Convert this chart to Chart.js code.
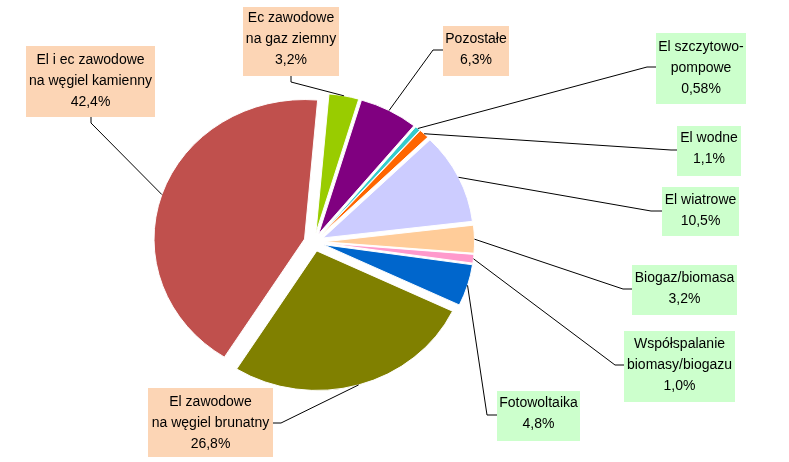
<!DOCTYPE html>
<html>
<head>
<meta charset="utf-8">
<script src="https://cdn.jsdelivr.net/npm/chart.js@4"></script>
<style>
html,body{margin:0;padding:0;background:#fff;}
#wrap{width:789px;height:462px;}
</style>
</head>
<body>
<div id="wrap"><canvas id="c" width="789" height="462"></canvas></div>
<script>
// ---- data ----
const categories = [
  "Ec zawodowe na gaz ziemny",
  "Pozostałe",
  "El szczytowo-pompowe",
  "El wodne",
  "El wiatrowe",
  "Biogaz/biomasa",
  "Współspalanie biomasy/biogazu",
  "Fotowoltaika",
  "El zawodowe na węgiel brunatny",
  "El i ec zawodowe na węgiel kamienny"
];
const labelLines = [
  ["Ec zawodowe", "na gaz ziemny"],
  ["Pozostałe"],
  ["El szczytowo-", "pompowe"],
  ["El wodne"],
  ["El wiatrowe"],
  ["Biogaz/biomasa"],
  ["Współspalanie", "biomasy/biogazu"],
  ["Fotowoltaika"],
  ["El zawodowe", "na węgiel brunatny"],
  ["El i ec zawodowe", "na węgiel kamienny"]
];
const values = [3.2, 6.3, 0.58, 1.1, 10.5, 3.2, 1.0, 4.8, 26.8, 42.4];

// ---- styles ----
const sliceColors = ["#99CC00", "#800080", "#33CCCC", "#FF6600", "#CCCCFF",
                     "#FFCC99", "#FF99CC", "#0066CC", "#808000", "#C0504D"];
const PEACH = "#FCD5B5", MINT = "#CCFFCC";
const boxFills = [PEACH, PEACH, MINT, MINT, MINT, MINT, MINT, MINT, PEACH, PEACH];

// label box layout: [x, y, w, h, textMidY, anchorX, anchorY, elbowX, elbowY]
const boxLayout = [
  [243,   7,  96, 69,  39.5, 291,  76, 291,  82],
  [443,  26,  66, 50,  50,   443,  50, 433,  50],
  [656,  33,  90, 71,  68,   656,  67, 647,  67],
  [677, 126,  64, 50, 149,   677, 150, 671, 150],
  [662, 187,  77, 49, 210.5, 662, 211, 651, 211],
  [632, 265, 105, 50, 289,   632, 289, 623, 289],
  [624, 331, 111, 71, 365,   624, 365, 615, 365],
  [497, 391,  83, 50, 413.5, 497, 415, 487, 415],
  [148, 388, 125, 69, 423,   273, 423, 281, 423],
  [ 26,  46, 129, 71,  81,    91, 117,  91, 123]
];

const EXPLODE = 10;     // px each slice is pulled out
const Y_SCALE = 0.927;  // vertical squash of the pie
const LINE_H = 21;

function pctText(v) {
  return v.toFixed(v < 1 ? 2 : 1).replace('.', ',') + '%';
}

const explodePlugin = {
  id: 'explode',
  beforeDatasetsDraw(chart) {
    const ctx = chart.ctx;
    const meta = chart.getDatasetMeta(0);
    if (!meta.data.length) return false;
    const cx = meta.data[0].x, cy = meta.data[0].y;
    ctx.save();
    ctx.translate(cx, cy);
    ctx.scale(1, Y_SCALE);
    ctx.translate(-cx, -cy);
    meta.data.forEach(arc => {
      const mid = (arc.startAngle + arc.endAngle) / 2;
      ctx.save();
      ctx.translate(Math.cos(mid) * EXPLODE, Math.sin(mid) * EXPLODE);
      arc.draw(ctx);
      ctx.restore();
    });
    ctx.restore();
    return false;
  }
};

const labelPlugin = {
  id: 'boxLabels',
  afterDraw(chart) {
    const ctx = chart.ctx;
    const meta = chart.getDatasetMeta(0);
    ctx.save();
    // leader lines
    ctx.strokeStyle = "#000";
    ctx.lineWidth = 1;
    meta.data.forEach((arc, i) => {
      const L = boxLayout[i];
      const mid = (arc.startAngle + arc.endAngle) / 2;
      const d = EXPLODE + arc.outerRadius;
      const px = arc.x + Math.cos(mid) * d;
      const py = arc.y + Math.sin(mid) * d * Y_SCALE;
      ctx.beginPath();
      ctx.moveTo(L[5], L[6]);
      ctx.lineTo(L[7], L[8]);
      ctx.lineTo(px, py);
      ctx.stroke();
    });
    // boxes + text
    ctx.font = '14px "Liberation Sans", Arial, sans-serif';
    ctx.textAlign = 'center';
    ctx.textBaseline = 'middle';
    meta.data.forEach((arc, i) => {
      const L = boxLayout[i];
      ctx.fillStyle = boxFills[i];
      ctx.fillRect(L[0], L[1], L[2], L[3]);
      const lines = labelLines[i].concat([pctText(values[i])]);
      ctx.fillStyle = "#000";
      const tx = L[0] + L[2] / 2;
      lines.forEach((t, k) => {
        const ty = L[4] + (k - (lines.length - 1) / 2) * LINE_H;
        ctx.fillText(t, tx, ty);
      });
    });
    ctx.restore();
  }
};

new Chart(document.getElementById('c'), {
  type: 'pie',
  data: {
    labels: categories,
    datasets: [{
      data: values,
      backgroundColor: sliceColors,
      borderColor: '#ffffff',
      borderWidth: 1,
      offset: 0,
      hoverOffset: 0
    }]
  },
  options: {
    responsive: false,
    animation: false,
    rotation: 5,
    events: [],
    layout: { padding: { left: 163, right: 324, top: 91, bottom: 69 } },
    plugins: {
      legend: { display: false },
      tooltip: { enabled: false },
      title: { display: false }
    }
  },
  plugins: [explodePlugin, labelPlugin]
});
</script>
</body>
</html>
